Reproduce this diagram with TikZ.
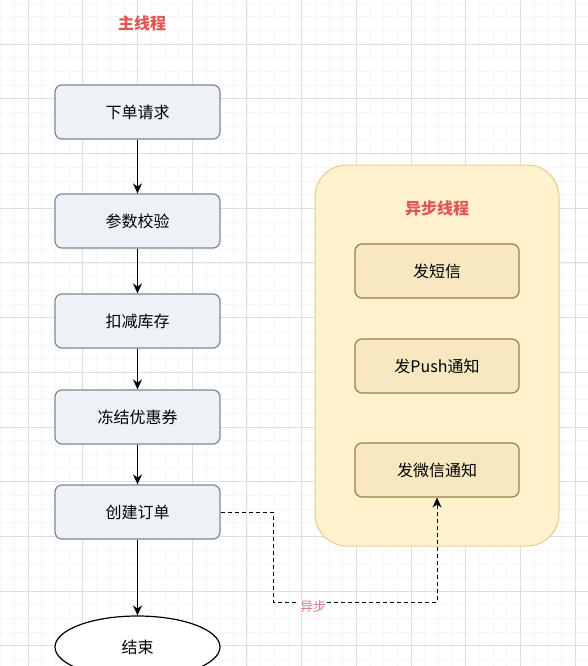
\documentclass[tikz,border=0pt]{standalone}
\usepackage{fontspec}
\setmainfont{Noto Sans CJK SC}
\usetikzlibrary{arrows.meta,shapes.geometric}
\definecolor{gridmaj}{HTML}{DEDEDE}
\definecolor{gridmin}{HTML}{F6F6F6}
\definecolor{mainfill}{HTML}{EEF2F7}
\definecolor{mainborder}{HTML}{7E8895}
\definecolor{contfill}{HTML}{FFF2CC}
\definecolor{contborder}{HTML}{E6CC86}
\definecolor{subfill}{HTML}{F8E8C2}
\definecolor{subborder}{HTML}{9C7D45}
\definecolor{titlered}{HTML}{E05555}
\definecolor{labelred}{HTML}{E07A7A}
\tikzset{
  x=1pt,y=-1pt,
  mainbox/.style={draw=mainborder,line width=1.2pt,fill=mainfill,rounded corners=7pt,minimum width=165pt,minimum height=54pt,font=\fontsize{16}{19}\selectfont,inner sep=0pt},
  subbox/.style={draw=subborder,line width=1.2pt,fill=subfill,rounded corners=7pt,minimum width=164pt,minimum height=54pt,font=\fontsize{16}{19}\selectfont,inner sep=0pt},
  endnode/.style={draw=black,line width=1.2pt,fill=white,ellipse,minimum width=165pt,minimum height=62pt,font=\fontsize{16}{19}\selectfont,inner sep=0pt},
  titletext/.style={text=titlered,font=\bfseries\fontsize{16}{19}\selectfont},
  flow/.style={draw=black,line width=1.2pt,-{Stealth[length=10pt,width=9pt]}},
  asyncline/.style={draw=black,line width=1pt,dash pattern=on 4pt off 3pt,-{Stealth[length=10pt,width=9pt]}},
}
\begin{document}
\begin{tikzpicture}
\useasboundingbox (0,0) rectangle (588,666);
\fill[white] (0,0) rectangle (588,666);
% minor grid
\foreach \i in {-3,...,43} {
  \draw[gridmin,line width=0.5pt] ({28+13.675*\i},0) -- ({28+13.675*\i},666);
}
\foreach \i in {-4,...,46} {
  \draw[gridmin,line width=0.5pt] (0,{44+13.675*\i}) -- (588,{44+13.675*\i});
}
% major grid
\foreach \i in {0,...,10} {
  \draw[gridmaj,line width=0.8pt] ({28+54.7*\i},0) -- ({28+54.7*\i},666);
}
\foreach \i in {-1,...,12} {
  \draw[gridmaj,line width=0.8pt] (0,{44+54.7*\i}) -- (588,{44+54.7*\i});
}
% container
\draw[draw=contborder,line width=1pt,fill=contfill,rounded corners=32pt] (315,165) rectangle (559,546);
\node[titletext] (tmain) at (142,23) {主线程};
\node[titletext] (tasync) at (437,208) {异步线程};
% main flow
\node[mainbox] (n1) at (137.5,112) {下单请求};
\node[mainbox] (n2) at (137.5,221) {参数校验};
\node[mainbox] (n3) at (137.5,321) {扣减库存};
\node[mainbox] (n4) at (137.5,417) {冻结优惠券};
\node[mainbox] (n5) at (137.5,512) {创建订单};
\node[endnode] (n6) at (137.5,647) {结束};
\draw[flow] (n1) -- (n2);
\draw[flow] (n2) -- (n3);
\draw[flow] (n3) -- (n4);
\draw[flow] (n4) -- (n5);
\draw[flow] (n5) -- (n6);
% async
\node[subbox] (a1) at (437,271) {发短信};
\node[subbox] (a2) at (437,366) {发Push通知};
\node[subbox] (a3) at (437,470) {发微信通知};
\coordinate (c1) at (273,512);
\coordinate (c2) at (273,602);
\coordinate (c3) at (437,602);
\draw[asyncline] (n5.east) -- (c1) -- (c2) -- (c3) -- (a3.south);
\node[fill=white,text=labelred,font=\fontsize{13}{15}\selectfont,inner sep=1pt] (lbl) at (313,607) {异步};
\end{tikzpicture}
\end{document}
